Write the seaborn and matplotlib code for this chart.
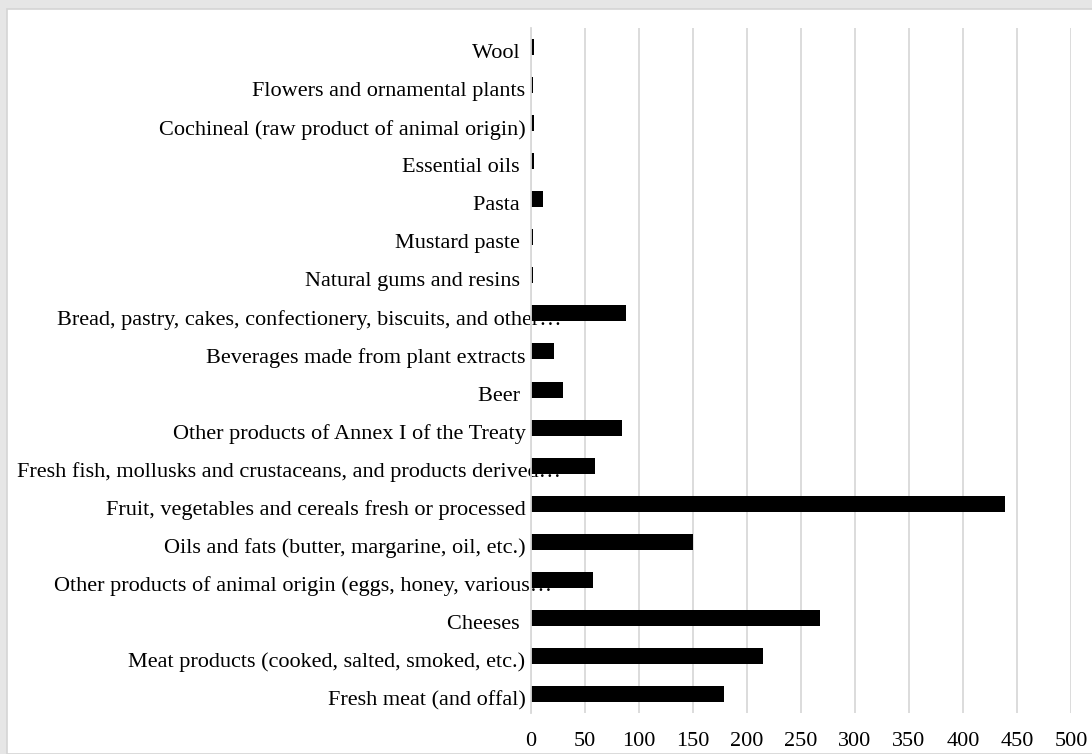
import matplotlib
matplotlib.use("Agg")
import matplotlib.pyplot as plt
import matplotlib.transforms as mtransforms
from matplotlib.patches import Rectangle
import seaborn as sns
import pandas as pd

categories = [
    "Wool ",
    "Flowers and ornamental plants",
    "Cochineal (raw product of animal origin)",
    "Essential oils ",
    "Pasta ",
    "Mustard paste ",
    "Natural gums and resins ",
    "Bread, pastry, cakes, confectionery, biscuits, and other\u2026",
    "Beverages made from plant extracts",
    "Beer ",
    "Other products of Annex I of the Treaty",
    "Fresh fish, mollusks and crustaceans, and products derived\u2026",
    "Fruit, vegetables and cereals fresh or processed",
    "Oils and fats (butter, margarine, oil, etc.)",
    "Other products of animal origin (eggs, honey, various\u2026",
    "Cheeses ",
    "Meat products (cooked, salted, smoked, etc.)",
    "Fresh meat (and offal)",
]
values = [3, 2, 3, 3, 11, 2, 2, 88, 21, 30, 84, 59, 439, 150, 57, 268, 215, 179]
x_ticks = [0, 50, 100, 150, 200, 250, 300, 350, 400, 450, 500]

df = pd.DataFrame({"category": categories, "value": values})

sns.set_theme(style="white")
plt.rcParams["font.family"] = ["Liberation Serif", "DejaVu Serif"]

W, H = 1092, 754
fig = plt.figure(figsize=(W / 100, H / 100), dpi=100)
fig.patch.set_facecolor("#e6e6e6")
fig.patches.append(Rectangle((7 / W, 0), 1.2, 1 - 9 / H, transform=fig.transFigure,
                             facecolor="white", edgecolor="#d4d4d4", linewidth=1.2, zorder=-10))

ax = fig.add_axes([531 / W, 1 - 713 / H, (1071 - 531) / W, (713 - 28) / H])
ax.set_zorder(1)
ax.set_facecolor("none")

sns.barplot(data=df, x="value", y="category", orient="h", color="black",
            width=0.42, ax=ax, saturation=1, edgecolor="black", linewidth=0)

ax.set_xlim(0, 500)
ax.set_xticks(x_ticks)
ax.set_xticklabels([str(t) for t in x_ticks])
ax.set_xlabel("")
ax.set_ylabel("")
ax.set_axisbelow(True)
ax.grid(axis="x", color="#d9d9d9", linewidth=1.3)
ax.grid(axis="y", visible=False)
for s in ["top", "right", "bottom"]:
    ax.spines[s].set_visible(False)
ax.spines["left"].set_color("#d9d9d9")
ax.spines["left"].set_linewidth(1.3)
ax.tick_params(axis="x", length=0, pad=14, labelsize=16, colors="black")
ax.tick_params(axis="y", length=0, pad=4, labelsize=16, colors="black")

# Labels sit slightly below bar centres; truncated labels overflow past the axis
overflow = {"other\u2026": 36, "derived\u2026": 36, "various\u2026": 27}
for lab in ax.get_yticklabels():
    txt = lab.get_text()
    dx = 0
    for key, px in overflow.items():
        if txt.endswith(key):
            dx = px
    off = mtransforms.ScaledTranslation(dx / 100, -4 / 100, fig.dpi_scale_trans)
    lab.set_transform(lab.get_transform() + off)

fig.savefig("out.png", dpi=100, facecolor=fig.get_facecolor())
